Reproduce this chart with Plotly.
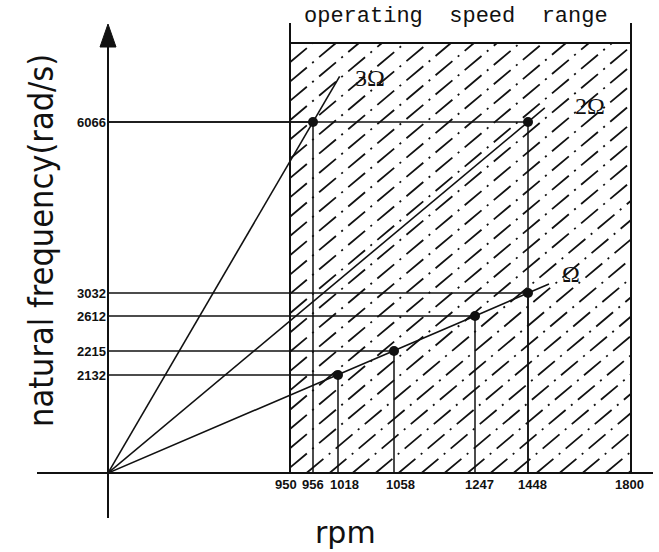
import numpy as np
import plotly.graph_objects as go

# ---------------- values ----------------
rpm_ticks = [950, 956, 1018, 1058, 1247, 1448, 1800]
freq_ticks = [2132, 2215, 2612, 3032, 6066]

omega1_rpm = [1018, 1058, 1247, 1448]
omega1_freq = [2132, 2215, 2612, 3032]
omega2_rpm = [1448]
omega2_freq = [6066]
omega3_rpm = [956]
omega3_freq = [6066]

speed_range = [950, 1800]

# ---------------- schematic axis layout ----------------
# The diagram is not to scale: each tick value sits at a fixed slot (pixels from the origin).
x_slots = [182, 205, 230, 286, 367, 420, 523]
y_slots = [98, 122, 157, 180, 351]
# small sideways nudges so the crowded rpm labels stay readable
x_label_nudge = [-4, 0, 6, 6, 4, 4, -2]

W, H = 659, 552
ML, MR, MT, MB = 108, 4, 10, 79
PW, PH = W - ML - MR, H - MT - MB


def sx(v):
    return np.interp(v, [0] + rpm_ticks, [0] + x_slots)


def sy(v):
    return np.interp(v, [0] + freq_ticks, [0] + y_slots)


def px(x):  # page pixel -> paper x
    return (x - ML) / PW


def py(y):  # page pixel -> paper y
    return (H - MB - y) / PH


BLACK = "#111111"
fig = go.Figure()

# ---------------- hatched operating range ----------------
band_x0, band_x1 = float(sx(speed_range[0])), float(sx(speed_range[1]))
band_top = 430
slope = np.tan(np.deg2rad(40))
step = 23
hx, hy = [], []
c = band_x0 - band_top / slope
while c < band_x1:
    xa = max(band_x0, c)
    xb = min(band_x1, c + band_top / slope)
    if xb > xa:
        hx += [xa, xb, None]
        hy += [slope * (xa - c), slope * (xb - c), None]
    c += step
fig.add_trace(go.Scatter(x=hx, y=hy, mode="lines", hoverinfo="skip",
                         line=dict(color=BLACK, width=1.8, dash="22px,7px,2px,7px")))

# ---------------- guide lines from each crossing to the axes ----------------
pts_rpm = omega1_rpm + omega2_rpm + omega3_rpm
pts_freq = omega1_freq + omega2_freq + omega3_freq
gx, gy = [], []
for r, f in zip(pts_rpm, pts_freq):
    X, Y = float(sx(r)), float(sy(f))
    gx += [0, X, None, X, X, None]
    gy += [Y, Y, None, Y, 0, None]
fig.add_trace(go.Scatter(x=gx, y=gy, mode="lines", hoverinfo="skip",
                         line=dict(color=BLACK, width=1.5)))

# ---------------- excitation lines Ω, 2Ω, 3Ω ----------------
orders = [
    ("Ω", omega1_rpm, omega1_freq, 0.05, (22, 10)),
    ("2Ω", omega2_rpm, omega2_freq, 0.04, (45, 2)),
    ("3Ω", omega3_rpm, omega3_freq, 0.13, (30, -2)),
]
for name, r, f, over, (dx, dy) in orders:
    xs = [0.0] + list(sx(r))
    ys = [0.0] + list(sy(f))
    ex, ey = xs[-1] * (1 + over), ys[-1] * (1 + over)
    xs.append(ex)
    ys.append(ey)
    fig.add_trace(go.Scatter(x=xs, y=ys, mode="lines", name=name, hoverinfo="skip",
                             line=dict(color=BLACK, width=1.6)))
    fig.add_annotation(x=ex + dx, y=ey + dy, xref="x", yref="y", text=name,
                       showarrow=False, xanchor="center", yanchor="middle",
                       font=dict(family="Liberation Serif", size=24, color=BLACK))

# crossing points
fig.add_trace(go.Scatter(x=sx(pts_rpm), y=sy(pts_freq), mode="markers",
                         marker=dict(color=BLACK, size=10), hoverinfo="skip"))

# ---------------- frame of the operating range ----------------
shapes = [
    dict(type="line", xref="x", yref="y", x0=band_x0, x1=band_x0, y0=0, y1=450,
         line=dict(color=BLACK, width=2)),
    dict(type="line", xref="x", yref="y", x0=band_x1, x1=band_x1, y0=0, y1=450,
         line=dict(color=BLACK, width=2)),
    dict(type="line", xref="x", yref="y", x0=band_x0, x1=band_x1, y0=band_top, y1=band_top,
         line=dict(color=BLACK, width=2)),
    # axes drawn through the origin, with an arrow on the vertical one
    dict(type="line", xref="paper", yref="paper", x0=px(37), x1=px(653), y0=0, y1=0,
         line=dict(color=BLACK, width=2)),
    dict(type="line", xref="paper", yref="paper", x0=0, x1=0, y0=py(518), y1=py(46),
         line=dict(color=BLACK, width=2)),
    dict(type="path", xref="paper", yref="paper",
         path=f"M {px(100)},{py(47)} L {px(ML)},{py(24)} L {px(116)},{py(47)} Z",
         fillcolor=BLACK, line=dict(color=BLACK, width=1)),
]

tick_font = dict(family="Liberation Sans", size=13, color=BLACK, weight="bold")
fig.update_layout(
    width=W, height=H,
    margin=dict(l=ML, r=MR, t=MT, b=MB),
    paper_bgcolor="white", plot_bgcolor="white",
    showlegend=False,
    shapes=shapes,
    xaxis=dict(range=[0, PW], tickvals=x_slots, showticklabels=False,
               showgrid=False, zeroline=False, showline=False, ticks="", fixedrange=True),
    yaxis=dict(range=[0, PH], tickvals=y_slots, ticktext=[str(v) for v in freq_ticks],
               showgrid=False, zeroline=False, showline=False, ticks="",
               tickfont=tick_font, ticklabelstandoff=1, fixedrange=True),
)

# rpm tick labels under the horizontal axis
for v, nudge in zip(rpm_ticks, x_label_nudge):
    fig.add_annotation(x=float(sx(v)), y=py(484), xref="x", yref="paper",
                       xanchor="center", yanchor="middle", xshift=nudge,
                       text=str(v), showarrow=False, font=tick_font)

fig.add_annotation(x=px(41), y=py(241), xref="paper", yref="paper",
                   xanchor="center", yanchor="middle",
                   text="natural frequency(rad/s)", textangle=-90, showarrow=False,
                   font=dict(family="Liberation Sans Narrow, DejaVu Sans Condensed, DejaVu Sans",
                             size=34, color=BLACK))
fig.add_annotation(x=px(345), y=py(532), xref="paper", yref="paper",
                   xanchor="center", yanchor="middle",
                   text="rpm", showarrow=False,
                   font=dict(family="DejaVu Sans", size=30, color=BLACK))
fig.add_annotation(x=px(456), y=py(17), xref="paper", yref="paper",
                   xanchor="center", yanchor="middle",
                   text="operating\u00a0\u00a0speed\u00a0\u00a0range", showarrow=False,
                   font=dict(family="Liberation Mono", size=22, color=BLACK))

fig.write_html("out.html")
